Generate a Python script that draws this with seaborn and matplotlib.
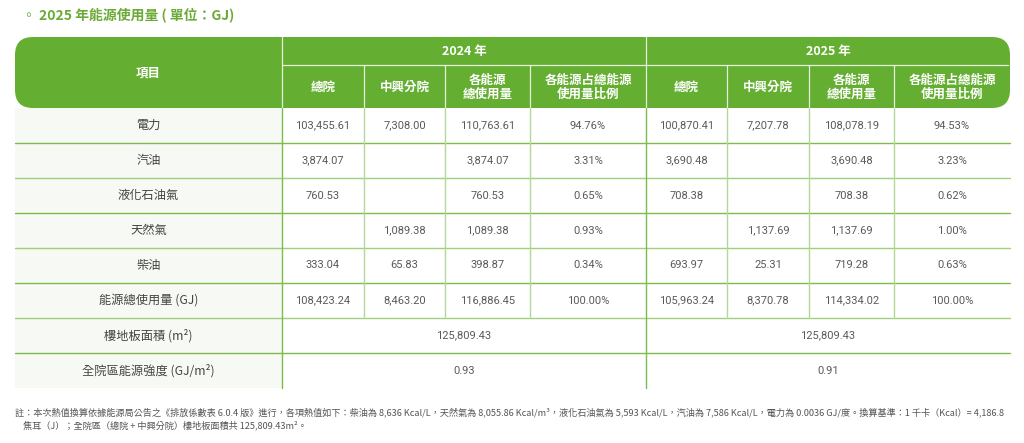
import numpy as np
import seaborn as sns
import matplotlib.pyplot as plt
from matplotlib.patches import FancyBboxPatch, Rectangle

# 表格資料 (單位: GJ)
items = ['電力', '汽油', '液化石油氣', '天然氣', '柴油', '能源總使用量 (GJ)']
main_2024 = [103455.61, 3874.07, 760.53, None, 333.04, 108423.24]
branch_2024 = [7308.00, None, None, 1089.38, 65.83, 8463.20]
total_2024 = [110763.61, 3874.07, 760.53, 1089.38, 398.87, 116886.45]
share_2024 = [94.76, 3.31, 0.65, 0.93, 0.34, 100.00]
main_2025 = [100870.41, 3690.48, 708.38, None, 693.97, 105963.24]
branch_2025 = [7207.78, None, None, 1137.69, 25.31, 8370.78]
total_2025 = [108078.19, 3690.48, 708.38, 1137.69, 719.28, 114334.02]
share_2025 = [94.53, 3.23, 0.62, 1.00, 0.63, 100.00]
years = ['2024 年', '2025 年']
sub_headers = ['總院', '中興分院', '各能源\n總使用量', '各能源占總能源\n使用量比例']
extra_items = ['樓地板面積 (m²)', '全院區能源強度 (GJ/m²)']
floor_area = [125809.43, 125809.43]
intensity = [0.93, 0.91]

title = '◦ 2025 年能源使用量 ( 單位：GJ)'
note = ('註：本次熱值換算依據能源局公告之《排放係數表 6.0.4 版》進行，各項熱值如下：柴油為 8,636 Kcal/L，天然氣為 8,055.86 Kcal/m³，'
        '液化石油氣為 5,593 Kcal/L，汽油為 7,586 Kcal/L，電力為 0.0036 GJ/度。換算基準：1 千卡（Kcal）= 4,186.8\n'
        '    焦耳（J）；全院區（總院 + 中興分院）樓地板面積共 125,809.43m²。')

sns.set_theme(style='white')
CJK = ['Noto Sans CJK TC', 'DejaVu Sans']
NUM = ['Roboto', 'Noto Sans CJK TC']

GREEN = '#64ae31'
LINE_DARK = '#7dbb4c'
LINE_LIGHT = '#b2da94'
LABEL_BG = '#f7f9f4'
TXT = '#444444'
NUMC = '#5a5a5a'

# 版面 (像素)
col_x = [15, 282, 364, 445, 530, 646, 727, 809, 894, 1010]
head_top, head_mid, head_bot = 37, 65, 108
row_h = 35

fig = plt.figure(figsize=(10.24, 4.43), dpi=100)
ax = fig.add_axes([0, 0, 1, 1])
ax.set_xlim(0, 1024)
ax.set_ylim(443, 0)
ax.axis('off')


def fmt(v):
    return '' if v is None else f'{v:,.2f}'


# 標題
ax.text(22, 15, title, color='#6aaa35', fontsize=10, fontweight='bold',
        family=CJK, ha='left', va='center')

# 表頭
hdr = FancyBboxPatch((col_x[0], head_top), col_x[-1] - col_x[0], head_bot - head_top,
                     boxstyle='round,pad=0,rounding_size=18', fc=GREEN, ec='none', zorder=1)
ax.add_patch(hdr)
ax.plot([col_x[1], col_x[-1] - 2], [head_mid, head_mid], color='#e6f2dc', lw=0.9, zorder=2)
for i, x in enumerate(col_x[1:-1]):
    y0 = head_top if i in (0, 4) else head_mid
    ax.plot([x, x], [y0, head_bot], color='#e6f2dc', lw=0.9, zorder=2)

ax.text((col_x[0] + col_x[1]) / 2, (head_top + head_bot) / 2, '項目', color='white',
        fontsize=9, fontweight='bold', family=CJK, ha='center', va='center')
for k, yr in enumerate(years):
    xc = (col_x[1 + 4 * k] + col_x[5 + 4 * k]) / 2
    ax.text(xc, (head_top + head_mid) / 2, yr, color='white', fontsize=9,
            fontweight='bold', family=CJK, ha='center', va='center')
    for j, s in enumerate(sub_headers):
        c = 1 + 4 * k + j
        ax.text((col_x[c] + col_x[c + 1]) / 2, (head_mid + head_bot) / 2 + 1, s,
                color='white', fontsize=9, fontweight='bold', family=CJK,
                ha='center', va='center', linespacing=1.05)

# 表身
cols = [main_2024, branch_2024, total_2024, [f'{v:.2f}%' for v in share_2024],
        main_2025, branch_2025, total_2025, [f'{v:.2f}%' for v in share_2025]]
all_labels = items + extra_items
n_rows = len(all_labels)
body_bot = head_bot + n_rows * row_h

ax.add_patch(Rectangle((col_x[0], head_bot), col_x[1] - col_x[0], body_bot - head_bot,
                       fc=LABEL_BG, ec='none', zorder=0))

for r, lab in enumerate(all_labels):
    yc = head_bot + r * row_h + row_h / 2
    ax.text((col_x[0] + col_x[1]) / 2, yc, lab, color=TXT, fontsize=8.8,
            family=CJK, ha='center', va='center')
    if r < len(items):
        for c, col in enumerate(cols):
            v = col[r]
            s = v if isinstance(v, str) else fmt(v)
            ax.text((col_x[c + 1] + col_x[c + 2]) / 2, yc, s, color=NUMC,
                    fontsize=8, family=NUM, ha='center', va='center')
    else:
        vals = floor_area if r == len(items) else intensity
        for k, v in enumerate(vals):
            xc = (col_x[1 + 4 * k] + col_x[5 + 4 * k]) / 2
            ax.text(xc, yc, fmt(v), color=NUMC, fontsize=8, family=NUM,
                    ha='center', va='center')
    if r < n_rows - 1:
        yl = head_bot + (r + 1) * row_h
        ax.plot([col_x[0], col_x[-1]], [yl, yl], color=LINE_DARK if r % 2 == 0 else '#9fd07c',
                lw=1.0, zorder=2)

# 直線
split_y = head_bot + len(items) * row_h
for i, x in enumerate(col_x[1:-1]):
    if i in (0, 4):
        ax.plot([x, x], [head_bot, body_bot], color=LINE_DARK, lw=1.0, zorder=2)
    else:
        ax.plot([x, x], [head_bot, split_y], color=LINE_LIGHT, lw=1.0, zorder=2)

# 註解
ax.text(15, 419, note, color='#555555', fontsize=6.6, family=CJK, ha='left', va='center',
        linespacing=1.45)

fig.savefig('out.png', dpi=100)
